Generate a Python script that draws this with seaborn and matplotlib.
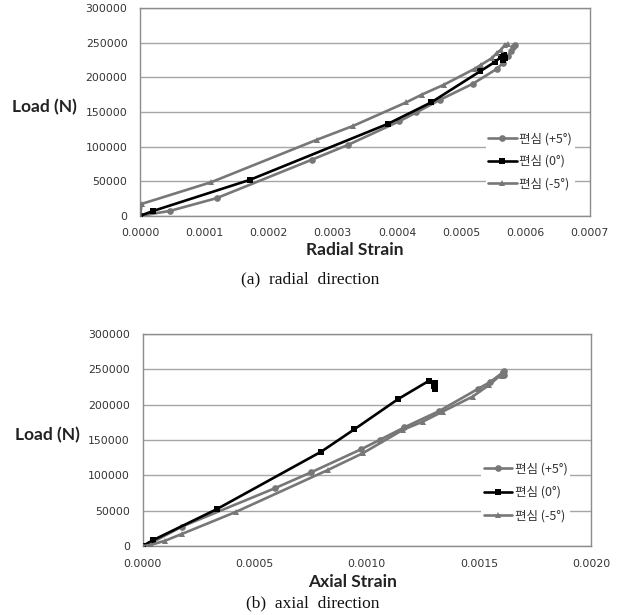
import matplotlib
matplotlib.use('Agg')
import matplotlib.pyplot as plt
from matplotlib.ticker import FormatStrFormatter, MultipleLocator
import pandas as pd
import seaborn as sns

sns.set_style('white')
plt.rcParams['font.family'] = ['Lato', 'DejaVu Sans']

# Legend labels for the three eccentricity cases
labels = ['편심 (+5°)', '편심 (0°)', '편심 (-5°)']

# (a) radial direction
rad_p5_x = [0.0, 0.0000467, 0.000119, 0.000267, 0.000324, 0.000403, 0.00043, 0.000467,
            0.000518, 0.000555, 0.000565, 0.000572, 0.000578, 0.000583, 0.00058]
rad_p5_y = [0, 7200, 25500, 80900, 102600, 136300, 149300, 167600,
            190700, 212000, 220700, 230000, 238000, 246000, 244000]
rad_0_x = [0.0, 0.0000207, 0.000171, 0.000386, 0.000453, 0.000529, 0.000552, 0.000562,
           0.000566, 0.000568, 0.000565]
rad_0_y = [0, 7200, 52000, 132900, 163700, 208500, 222000, 229300, 232000, 228000, 225000]
rad_m5_x = [0.0, 0.0000026, 0.000111, 0.000275, 0.000332, 0.000414, 0.000438, 0.000473,
            0.000521, 0.000531, 0.000548, 0.000555, 0.000562, 0.000568, 0.000572]
rad_m5_y = [0, 17300, 48700, 109800, 130000, 163700, 174800, 189300,
            212400, 218200, 228000, 235000, 240000, 247000, 248000]

# (b) axial direction
ax_p5_x = [0.0, 0.00003, 0.000174, 0.000589, 0.000752, 0.000975, 0.001057, 0.001168,
           0.001324, 0.001494, 0.00155, 0.001606, 0.00161, 0.001612]
ax_p5_y = [0, 3000, 27400, 81700, 104400, 137000, 150100, 168000,
           191200, 222000, 232000, 245500, 242000, 247000]
ax_0_x = [0.0, 0.0000472, 0.000332, 0.000797, 0.000945, 0.001141, 0.001279, 0.001306,
          0.001306, 0.001300]
ax_0_y = [0, 8500, 52400, 133600, 165300, 208200, 234100, 230400, 222000, 226000]
ax_m5_x = [0.0, 0.00004, 0.0000993, 0.000174, 0.000418, 0.000826, 0.000982, 0.00116,
           0.00125, 0.001338, 0.001472, 0.001546, 0.001598, 0.001605]
ax_m5_y = [0, 2000, 7500, 17000, 48600, 107600, 131300, 164300,
           176100, 190200, 211500, 228000, 242200, 240000]


def to_frame(series):
    parts = []
    for lab, (xs, ys) in zip(labels, series):
        parts.append(pd.DataFrame({'strain': xs, 'load': ys, 'case': lab}))
    return pd.concat(parts, ignore_index=True)


radial = to_frame([(rad_p5_x, rad_p5_y), (rad_0_x, rad_0_y), (rad_m5_x, rad_m5_y)])
axial = to_frame([(ax_p5_x, ax_p5_y), (ax_0_x, ax_0_y), (ax_m5_x, ax_m5_y)])

palette = {labels[0]: '#777777', labels[1]: '#000000', labels[2]: '#777777'}
markers = {labels[0]: 'o', labels[1]: 's', labels[2]: '^'}
dashes = {lab: '' for lab in labels}

fig = plt.figure(figsize=(6.17, 6.15), dpi=100)
ax1 = fig.add_axes([0.227, 0.649, 0.729, 0.338])
ax2 = fig.add_axes([0.231, 0.112, 0.727, 0.345])


def draw(ax, df, xmax, xstep, xlabel, xlab_pos, leg_anchor, leg_spacing):
    sns.lineplot(data=df, x='strain', y='load', hue='case', style='case',
                 palette=palette, markers=markers, dashes=dashes, sort=False,
                 estimator=None, units='case', linewidth=1.9, markersize=4.8,
                 markeredgewidth=0, ax=ax, legend=False, zorder=3)
    ax.set_xlim(0, xmax)
    ax.set_ylim(0, 300000)
    ax.xaxis.set_major_locator(MultipleLocator(xstep))
    ax.xaxis.set_major_formatter(FormatStrFormatter('%.4f'))
    ax.yaxis.set_major_locator(MultipleLocator(50000))
    ax.yaxis.grid(True, color='#a6a6a6', linewidth=1.0)
    ax.set_axisbelow(True)
    for s in ax.spines.values():
        s.set_color('#8c8c8c')
        s.set_linewidth(1.0)
    ax.tick_params(axis='both', labelsize=7.8, colors='#8c8c8c', labelcolor='#333333',
                   direction='out', length=4, width=0.8, pad=5)
    for t in ax.get_xticklabels() + ax.get_yticklabels():
        t.set_family('DejaVu Sans')
    ax.set_xlabel(xlabel, fontsize=12.5, fontweight='bold', color='#222222')
    ax.xaxis.set_label_coords(*xlab_pos)
    ax.xaxis.label.set_va('center')
    ax.set_ylabel('Load (N)', fontsize=12.5, fontweight='bold', color='#222222',
                  rotation=0, ha='center', va='center')
    ax.yaxis.set_label_coords(-0.212, 0.525)

    handles = []
    for lab in labels:
        h, = ax.plot([], [], color=palette[lab], marker=markers[lab], markersize=4.8,
                     markeredgewidth=0, linewidth=1.9)
        handles.append(h)
    leg = ax.legend(handles, labels, loc='center left', bbox_to_anchor=leg_anchor,
                    frameon=True, facecolor='white', edgecolor='none', framealpha=1,
                    prop={'family': ['Noto Sans CJK KR', 'DejaVu Sans'], 'size': 9},
                    handlelength=2.3, handletextpad=0.2, labelspacing=leg_spacing,
                    borderpad=0.2, borderaxespad=0)
    for t in leg.get_texts():
        t.set_color('#333333')


draw(ax1, radial, 0.0007, 0.0001, 'Radial Strain', (0.478, -0.164), (0.768, 0.262), 0.74)
draw(ax2, axial, 0.0020, 0.0005, 'Axial Strain', (0.469, -0.17), (0.755, 0.253), 0.84)

fig.text(0.502, 0.545, '(a)  radial  direction', fontsize=12.5,
         family='Liberation Serif', ha='center', va='center', color='#111111')
fig.text(0.507, 0.0195, '(b)  axial  direction', fontsize=12.5,
         family='Liberation Serif', ha='center', va='center', color='#111111')

fig.savefig('out.png', dpi=100)
